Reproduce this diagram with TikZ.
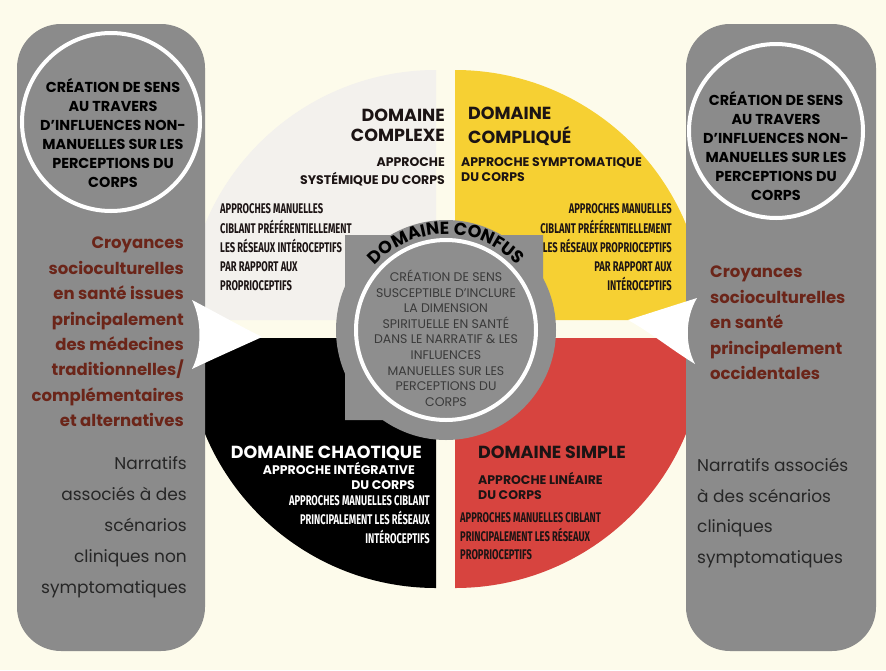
\documentclass[tikz,border=0pt]{standalone}
\usepackage{fontspec}
\setmainfont{Poppins}
\newfontfamily\condfont[FakeStretch=0.67]{Fira Sans}
\usetikzlibrary{calc,decorations.text}
\newcommand\setfs[2]{\fontsize{#1}{#2}\selectfont}

\definecolor{bgcream}{HTML}{FDFBEB}
\definecolor{panelgray}{HTML}{8B8B8B}
\definecolor{centergray}{HTML}{8E8E8E}
\definecolor{quadwhite}{HTML}{F3F1ED}
\definecolor{quadyellow}{HTML}{F6D033}
\definecolor{quadred}{HTML}{D7443F}
\definecolor{maroon}{HTML}{6B2519}
\definecolor{inkdark}{HTML}{1C1414}
\definecolor{centerink}{HTML}{3A3A3A}

\begin{document}
\begin{tikzpicture}[x=1pt,y=1pt,
  head/.style={font=\bfseries\setfs{17.5}{20.5}, inner sep=0, text=inkdark},
  sub/.style={font=\bfseries\setfs{12.5}{15}, inner sep=0, text=inkdark},
  cond/.style={font=\condfont\bfseries\setfs{14}{19}, inner sep=0, text=inkdark},
  circtxt/.style={font=\bfseries\setfs{14.4}{19}, inner sep=0, align=center, text=black},
  ctrtxt/.style={font=\setfs{12.5}{15.6}, inner sep=0, align=center, text=centerink},
  belief/.style={font=\bfseries\setfs{16.5}{25.4}, inner sep=0, text=maroon},
  narr/.style={font=\setfs{17}{31}, inner sep=0, text=black!85}]

\useasboundingbox (0,0) rectangle (886,-670);
\fill[bgcream] (0,0) rectangle (886,-670);

% four quadrants of the domain wheel
\fill[quadwhite]  (436,-320) -- (186,-320) arc (180:90:250) -- cycle;
\fill[quadyellow] (455,-320) -- (705,-320) arc (0:90:250) -- cycle;
\fill[black]      (436,-338) -- (186,-338) arc (180:270:250) -- cycle;
\fill[quadred]    (455,-338) -- (705,-338) arc (0:-90:250) -- cycle;

% side panels
\fill[panelgray, rounded corners=44] (17,-24) rectangle (205,-651);
\fill[panelgray, rounded corners=44] (686,-24) rectangle (876,-651);
\draw[white, line width=4] (111,-122) circle (89);
\draw[white, line width=4] (776,-131) circle (87);

% pointers from the panels towards the wheel
\fill[white] (192,-300) .. controls (215,-312) and (240,-326) .. (262,-337)
  .. controls (240,-347) and (215,-358) .. (192,-369)
  .. controls (202,-350) and (202,-320) .. cycle;
\fill[white] (697,-298) .. controls (675,-305) and (650,-313) .. (628,-320)
  .. controls (650,-332) and (672,-350) .. (695,-364)
  .. controls (685,-345) and (685,-318) .. cycle;

% central "confus" disc
\coordinate (cc) at (446,-330);
\fill[centergray] (cc) circle (110);
\fill[centergray] (345,-235) -- (543,-235) -- (543,-330) -- (445,-330)
  -- (445,-420) -- (345,-420) -- cycle;
\draw[white, line width=4] (cc) circle (90);
\path[decorate, decoration={text along path, text align=center,
  text={|\bfseries\setfs{17.5}{17.5}|DOMAINE CONFUS}}]
  ($(cc)+(155:96)$) arc (155:25:96);

\node[ctrtxt, anchor=north] (confus) at (446,-269.8)
  {\strut CRÉATION DE SENS\\SUSCEPTIBLE D’INCLURE\\LA DIMENSION\\SPIRITUELLE EN SANTÉ\\DANS LE NARRATIF \& LES\\INFLUENCES\\MANUELLES SUR LES\\PERCEPTIONS DU\\CORPS};

% panel circles
\node[circtxt, anchor=north] (lcirc) at (113,-78.7)
  {\strut CRÉATION DE SENS\\AU TRAVERS\\D’INFLUENCES NON-\\MANUELLES SUR LES\\PERCEPTIONS DU\\CORPS};
\node[circtxt, anchor=north] (rcirc) at (776,-91.7)
  {\strut CRÉATION DE SENS\\AU TRAVERS\\D’INFLUENCES NON-\\MANUELLES SUR LES\\PERCEPTIONS DU\\CORPS};

% complexe
\node[head, anchor=north east, align=right] (cplx) at (445,-106.8) {\strut DOMAINE\\COMPLEXE};
\node[sub, anchor=north east, align=right] (cplxa) at (445,-155.9) {\strut APPROCHE\\SYSTÉMIQUE DU CORPS};
\node[cond, anchor=north west, align=left] (cplxm) at (220,-199.5)
  {\strut APPROCHES MANUELLES\\CIBLANT PRÉFÉRENTIELLEMENT\\LES RÉSEAUX INTÉROCEPTIFS\\PAR RAPPORT AUX\\PROPRIOCEPTIFS};

% compliqué
\node[head, anchor=north west, align=left] (cpli) at (468,-104.8) {\strut DOMAINE\\COMPLIQUÉ};
\node[sub, anchor=north west, align=left] (cplia) at (461,-155.9) {\strut APPROCHE SYMPTOMATIQUE\\DU CORPS};
\node[cond, anchor=north east, align=right] (cplim) at (672,-199.5)
  {\strut APPROCHES MANUELLES\\CIBLANT PRÉFÉRENTIELLEMENT\\LES RÉSEAUX PROPRIOCEPTIFS\\PAR RAPPORT AUX\\INTÉROCEPTIFS};

% chaotique
\node[head, text=white, anchor=base east] (chao) at (422,-458.1) {DOMAINE CHAOTIQUE};
\node[sub, text=white, anchor=north east, align=right] (chaoa) at (415,-462.4) {\strut APPROCHE INTÉGRATIVE\\DU CORPS};
\node[cond, text=white, anchor=north east, align=right, font=\condfont\bfseries\setfs{14}{18.5}] (chaom) at (430,-491.9)
  {\strut APPROCHES MANUELLES CIBLANT\\PRINCIPALEMENT LES RÉSEAUX\\INTÉROCEPTIFS};

% simple
\node[head, anchor=base west] (simp) at (478,-458.1) {DOMAINE SIMPLE};
\node[sub, anchor=north west, align=left] (simpa) at (478,-471.9) {\strut APPROCHE LINÉAIRE\\DU CORPS};
\node[cond, anchor=north west, align=left, font=\condfont\bfseries\setfs{14}{18}] (simpm) at (460,-509.2)
  {\strut APPROCHES MANUELLES CIBLANT\\PRINCIPALEMENT LES RÉSEAUX\\PROPRIOCEPTIFS};

% beliefs and narratives
\node[belief, anchor=north east, align=right] (lbel) at (184,-231)
  {\strut Croyances\\socioculturelles\\en santé issues\\principalement\\des médecines\\traditionnelles/\\complémentaires\\et alternatives};
\node[belief, anchor=north west, align=left] (rbel) at (710,-260)
  {\strut Croyances\\socioculturelles\\en santé\\principalement\\occidentales};
\node[narr, anchor=north east, align=right] (lnar) at (187,-447.3)
  {\strut Narratifs\\associés à des\\scénarios\\cliniques non\\symptomatiques};
\node[narr, anchor=north west, align=left, font=\setfs{17}{30.5}] (rnar) at (697,-450.3)
  {\strut Narratifs associés\\à des scénarios\\cliniques\\symptomatiques};
\end{tikzpicture}
\end{document}
